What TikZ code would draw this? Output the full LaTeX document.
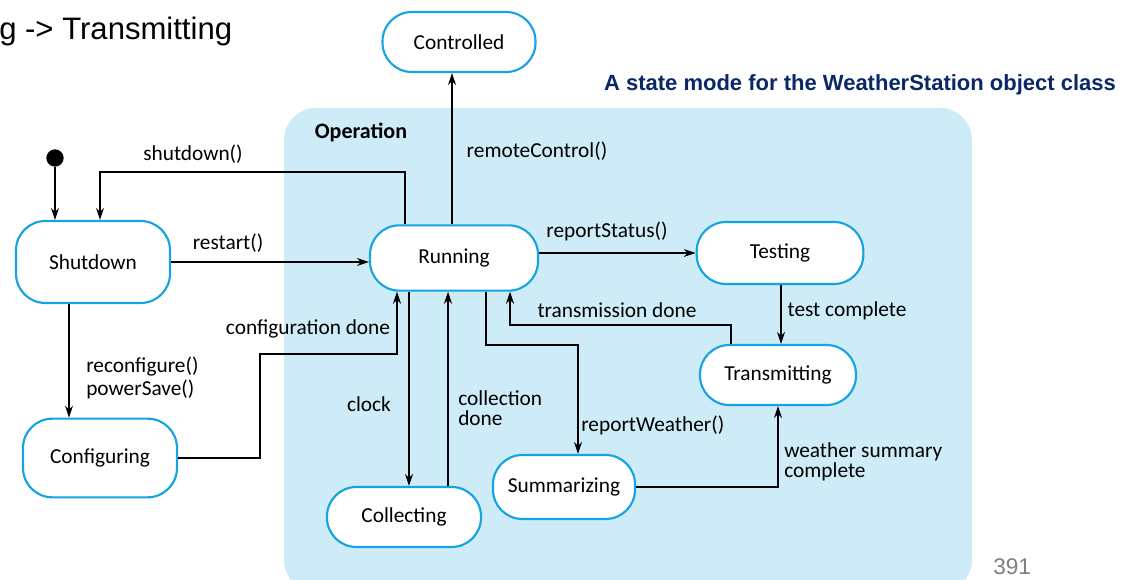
\documentclass[tikz,border=0pt]{standalone}
\usepackage{fontspec}
\setmainfont{Carlito}
\newfontfamily\arialfont{Liberation Sans}
\usepackage{xcolor}
\usetikzlibrary{arrows.meta,positioning}
\definecolor{stcyan}{RGB}{22,163,226}
\definecolor{opblue}{RGB}{205,236,248}
\definecolor{ttlblue}{RGB}{10,40,105}

\begin{document}
\begin{tikzpicture}[x=0.75pt,y=-0.75pt,>={Stealth[length=9pt,width=6pt]},
 st/.style={draw=stcyan,line width=1.6pt,fill=white,rounded corners=22pt,inner sep=0pt,minimum width=115pt,minimum height=45pt,font=\fontsize{16}{18}\selectfont},
 lab/.style={font=\fontsize{16}{15.5}\selectfont,inner sep=0pt,align=left},
 tr/.style={->,line width=0.9pt}]
\useasboundingbox (0,0) rectangle (1130,580);
% operation region
\fill[opblue,rounded corners=24pt] (284,108) rectangle (972,592);
\node[font=\bfseries\fontsize{16.5}{18}\selectfont] (oplbl) at (361,132) {Operation};
\node[font=\arialfont\fontsize{23.3}{27}\selectfont,anchor=base west,inner sep=0pt] (hdr) at (-1,40) {g -> Transmitting};
\node[font=\arialfont\bfseries\fontsize{16.5}{19}\selectfont,text=ttlblue] (ttl) at (860,85) {A state mode for the WeatherStation object class};
\node[font=\arialfont\fontsize{17}{20}\selectfont,text=gray,anchor=north west,inner sep=0pt] (pg) at (993,558) {391};
% states
\node[circle,fill=black,inner sep=0pt,minimum size=13pt] (init) at (55,158) {};
\node[st,minimum width=114.75pt] (ctrl) at (459,42) {Controlled};
\node[st,minimum width=115.5pt,minimum height=61.5pt] (shut) at (93,262) {Shutdown};
\node[st,minimum width=115.5pt,minimum height=59pt] (conf) at (100,458) {Configuring};
\node[st,minimum width=126pt,minimum height=49pt] (run) at (454,258) {Running};
\node[st,minimum width=125pt,minimum height=46.5pt] (test) at (780,253) {Testing};
\node[st,minimum width=117pt] (trans) at (778,375) {Transmitting};
\node[st,minimum width=106.5pt,minimum height=48pt] (summ) at (564,487) {Summarizing};
\node[st,minimum width=115.5pt] (coll) at (404,517) {Collecting};
% transitions
\draw[tr] (init) -- (init |- shut.north);
\draw[tr] (run.north -| 405,0) -- (405,172) -| (shut.north -| 100,0);
\draw[tr] (shut.east) -- (shut.east -| run.west);
\draw[tr] (run.north -| 452,0) -- (ctrl.south -| 452,0);
\draw[tr] (run.east |- test.west) -- (test.west);
\draw[tr] (test.south -| 781,0) -- (trans.north -| 781,0);
\draw[tr] (trans.north -| 731,0) -- (731,325) -| (run.south -| 510,0);
\draw[tr] (run.south -| 486,0) -- (486,345) -| (summ.north -| 578,0);
\draw[tr] (summ.east) -| (trans.south -| 778,0);
\draw[tr] (run.south -| 409,0) -- (coll.north -| 409,0);
\draw[tr] (coll.north -| 448,0) -- (run.south -| 448,0);
\draw[tr] (conf.east) -- (260,458) |- (397,354) -- (run.south -| 397,0);
\draw[tr] (shut.south -| 69,0) -- (conf.north -| 69,0);
% labels
\node[lab] (l-shutdown) at (193,154) {shutdown()};
\node[lab] (l-restart) at (228,243) {restart()};
\node[lab] (l-remote) at (537,151) {remoteControl()};
\node[lab] (l-status) at (607,231) {reportStatus()};
\node[lab] (l-test) at (847,311) {test complete};
\node[lab] (l-transdone) at (617,310) {transmission done};
\node[lab] (l-confdone) at (308,329) {configuration done};
\node[lab,font=\fontsize{16}{17.3}\selectfont,anchor=north west] (l-reconf) at (86,357) {reconfigure()\\powerSave()};
\node[lab] (l-clock) at (369,404) {clock};
\node[lab,anchor=north west] (l-colldone) at (458,390) {collection\\done};
\node[lab,anchor=north west] (l-summdone) at (784,442) {weather summary\\complete};
\node[lab,anchor=west] (l-weather) at (581,425) {reportWeather()};
\end{tikzpicture}
\end{document}
